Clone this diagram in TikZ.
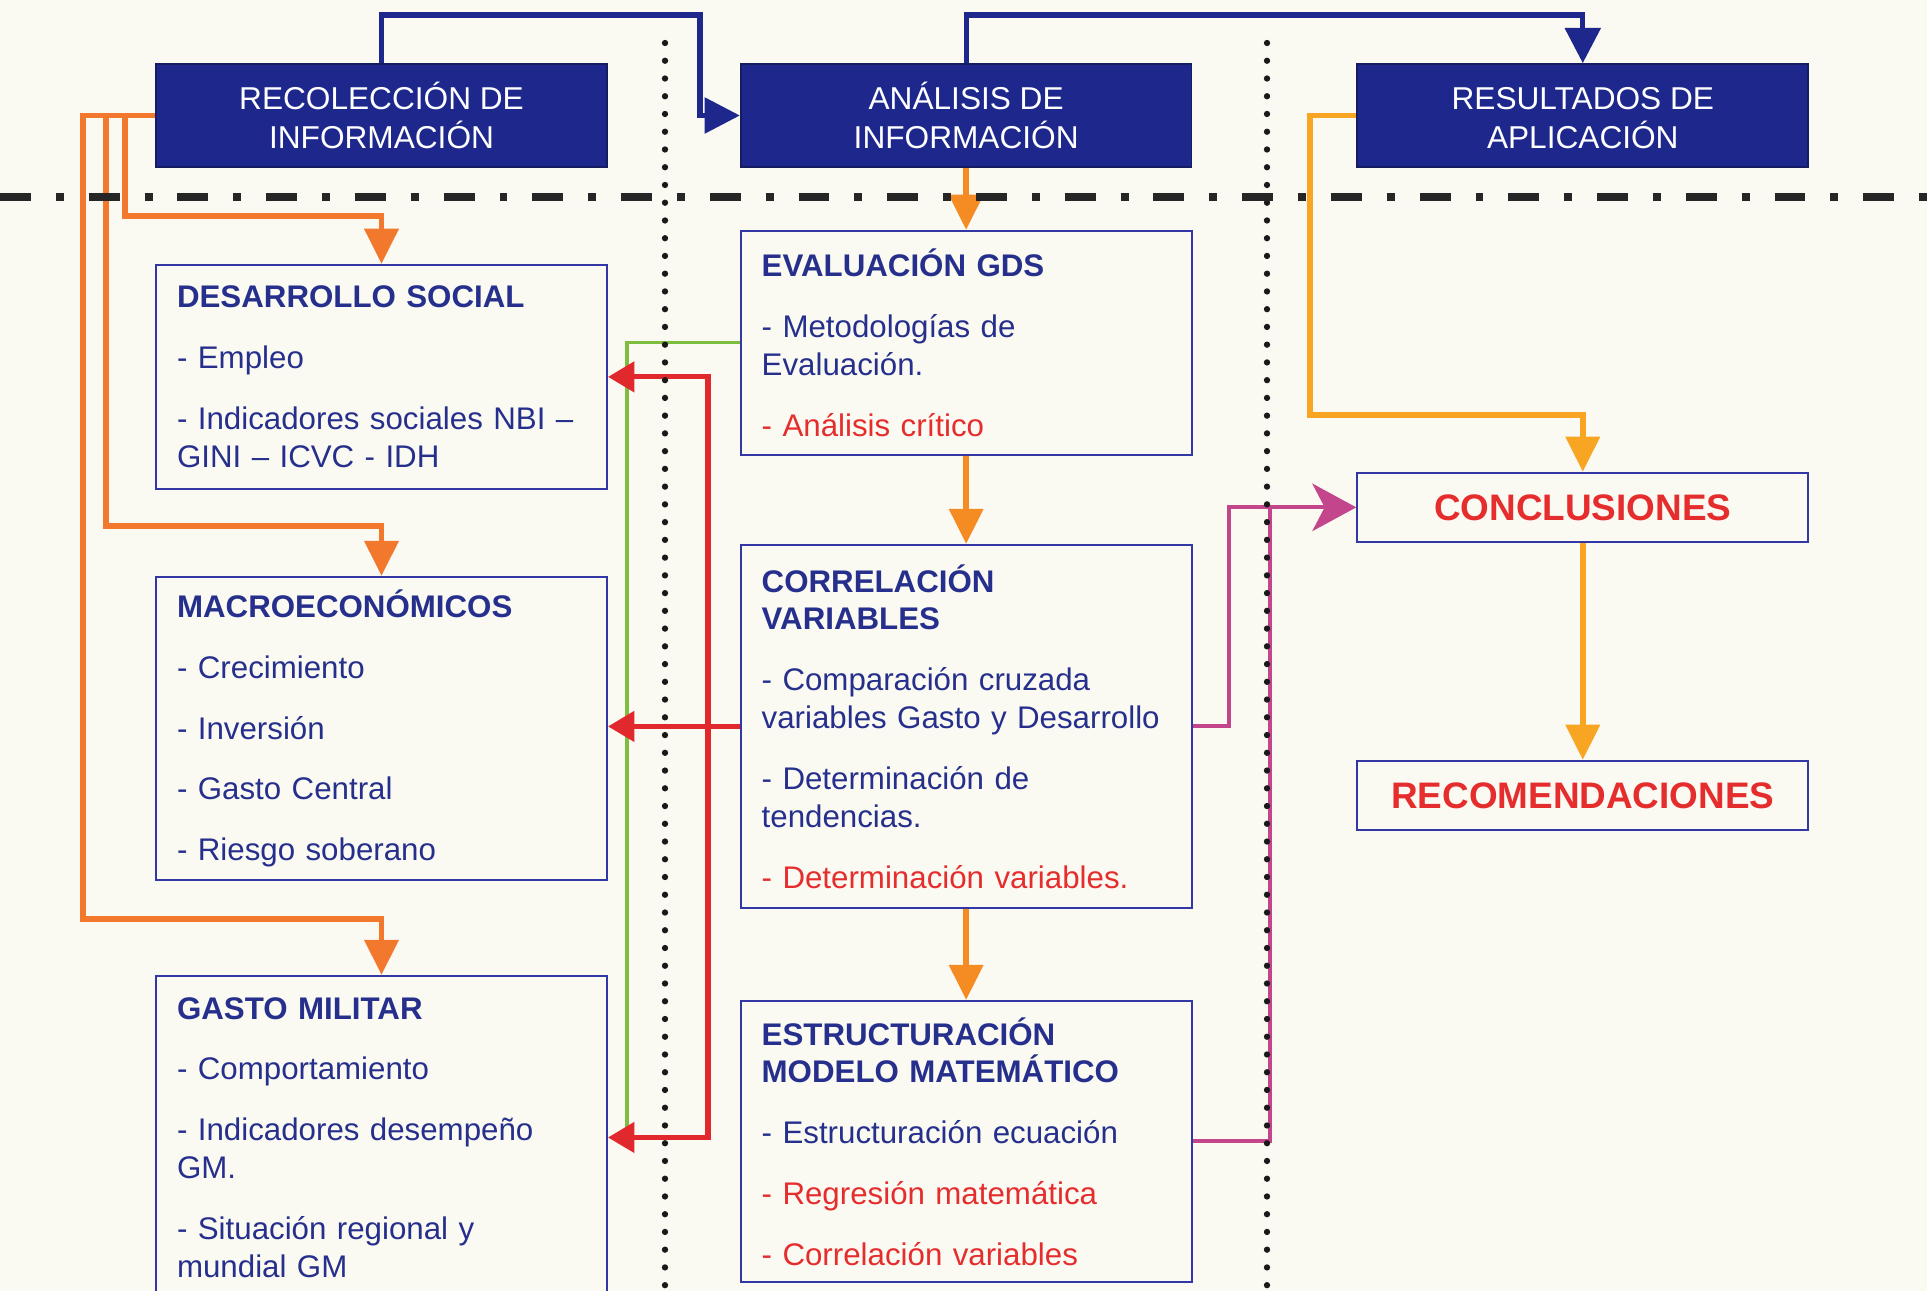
\documentclass[tikz,border=0pt]{standalone}
\usepackage{fontspec}
\setmainfont{Liberation Sans}
\usetikzlibrary{arrows.meta, positioning}

\definecolor{paper}{RGB}{250,250,243}
\definecolor{navy}{RGB}{30,40,140}
\definecolor{boxblue}{RGB}{50,55,165}
\definecolor{txtblue}{RGB}{38,48,140}
\definecolor{txtred}{RGB}{230,45,45}
\definecolor{orangeL}{RGB}{242,120,45}
\definecolor{orangeM}{RGB}{245,140,35}
\definecolor{orangeR}{RGB}{248,165,35}
\definecolor{redarrow}{RGB}{225,40,45}
\definecolor{greenline}{RGB}{125,190,65}
\definecolor{pinkline}{RGB}{195,70,140}

\begin{document}
\begin{tikzpicture}[
    x=0.02cm, y=-0.02cm,
    hbox/.style={rectangle, draw=navy!70!black, line width=1pt, fill=navy,
                 text=white, minimum width=9.02cm, minimum height=2.06cm,
                 font=\fontsize{18}{22.2}\selectfont, align=center},
    box/.style={rectangle, draw=boxblue, line width=1.2pt, fill=paper,
                text=txtblue, text width=8.18cm, inner xsep=0.42cm, inner ysep=0pt,
                font=\fontsize{17.8}{21.6}\selectfont, align=left},
    rbox/.style={rectangle, draw=boxblue, line width=1.2pt, fill=paper,
                 text=txtred, minimum width=9.02cm, minimum height=1.38cm,
                 font=\fontsize{21}{24}\selectfont\bfseries},
    olink/.style={-{Triangle[length=20pt, width=19pt]}, line width=3.4pt, draw=orangeL},
    mlink/.style={-{Triangle[length=20pt, width=19pt]}, line width=3.4pt, draw=orangeM},
    ylink/.style={-{Triangle[length=20pt, width=19pt]}, line width=3.4pt, draw=orangeR},
    blink/.style={-{Triangle[length=20pt, width=20pt]}, line width=2.9pt, draw=navy},
    rlink/.style={-{Triangle[length=15pt, width=17pt]}, line width=2.9pt, draw=redarrow},
    plink/.style={-{Stealth[length=25pt, width=27pt, inset=7pt]}, line width=2.3pt, draw=pinkline},
    pline/.style={line width=2.3pt, draw=pinkline},
    gline/.style={line width=1.8pt, draw=greenline},
    dotline/.style={line width=3.6pt, line cap=round, dash pattern=on 0pt off 10.1pt, draw=black!90},
    dashdot/.style={line width=4pt, dash pattern=on 17.6pt off 14.2pt on 4.5pt off 14.2pt, draw=black!85},
]
\useasboundingbox (0,0) rectangle (1927,1291);
\fill[paper] (0,0) rectangle (1927,1291);

% Header row
\node[hbox] (rec) at (381.5,115.5) {RECOLECCIÓN DE\\INFORMACIÓN};
\node[hbox, right=2.64cm of rec] (ana) {ANÁLISIS DE\\INFORMACIÓN};
\node[hbox, right=3.28cm of ana] (res) {RESULTADOS DE\vphantom{Á}\\APLICACIÓN};

% Left column
\node[box, minimum height=4.48cm, below=1.92cm of rec] (des)
    {\textbf{DESARROLLO SOCIAL}\\[13pt]
     - Empleo\\[13pt]
     - Indicadores sociales NBI –\\GINI – ICVC - IDH};
\node[box, minimum height=6.06cm, below=1.72cm of des] (mac)
    {\textbf{MACROECONÓMICOS}\\[13pt]
     - Crecimiento\\[13pt]
     - Inversión\\[13pt]
     - Gasto Central\\[13pt]
     - Riesgo soberano};
\node[box, minimum height=6.46cm, below=1.88cm of mac] (gm)
    {\textbf{GASTO MILITAR}\\[13pt]
     - Comportamiento\\[13pt]
     - Indicadores desempeño\\GM.\\[13pt]
     - Situación regional y\\mundial GM};

% Middle column
\node[box, minimum height=4.48cm, below=1.24cm of ana] (eva)
    {\textbf{EVALUACIÓN GDS}\\[13pt]
     - Metodologías de\\Evaluación.\\[13pt]
     {\color{txtred}- Análisis crítico}};
\node[box, minimum height=7.26cm, below=1.76cm of eva] (cor)
    {\textbf{CORRELACIÓN}\\\textbf{VARIABLES}\\[13pt]
     - Comparación cruzada\\variables Gasto y Desarrollo\\[13pt]
     - Determinación de\\tendencias.\\[13pt]
     {\color{txtred}- Determinación variables.}};
\node[box, minimum height=5.62cm, below=1.82cm of cor] (est)
    {\textbf{ESTRUCTURACIÓN}\\\textbf{MODELO MATEMÁTICO}\\[13pt]
     - Estructuración ecuación\\[13pt]
     {\color{txtred}- Regresión matemática}\\[13pt]
     {\color{txtred}- Correlación variables}};

% Right column
\node[rbox, below=6.08cm of res] (con) {CONCLUSIONES};
\node[rbox, below=4.34cm of con] (rcm) {RECOMENDACIONES};

% bend points
\coordinate (b1) at (700,15);
\coordinate (b2) at (1300,15);
\coordinate (o1) at (83,919);
\coordinate (o2) at (106,526);
\coordinate (o3) at (125,216);
\coordinate (y1) at (1310,415);
\coordinate (rj) at (708,0);
\coordinate (gx) at (627,0);
\coordinate (px1) at (1229,0);
\coordinate (px2) at (1270,0);

% blue flow between phases
\draw[blink] (rec.north) |- (b1) |- (ana.west);
\draw[blink] (ana.north) |- (b2) -| (res.north);

% orange feeds
\draw[olink] (rec.west) -| (o1) -| (gm.north);
\draw[olink] (rec.west) -| (o2) -| (mac.north);
\draw[olink] (rec.west) -| (o3) -| (des.north);
\draw[mlink] (ana) -- (eva);
\draw[mlink] (eva) -- (cor);
\draw[mlink] (cor) -- (est);
\draw[ylink] (res.west) -| (y1) -| (con.north);
\draw[ylink] (con) -- (rcm);

% feedback
\draw[gline] (eva.west) -| (gx |- gm.east);
\draw[rlink] (cor.west) -- (cor.west -| mac.east);
\draw[rlink] (cor.west -| rj) |- (des.east);
\draw[rlink] (cor.west -| rj) |- (gm.east);
\draw[pline] (est.east) -| (px2 |- con.west);
\draw[plink] (cor.east) -| (px1 |- con.west) -- (con.west);

% separators
\draw[dotline] (665,43) -- (665,1300);
\draw[dotline] (1267,43) -- (1267,1300);
\draw[dashdot] (0,197) -- (1927,197);

\end{tikzpicture}
\end{document}
